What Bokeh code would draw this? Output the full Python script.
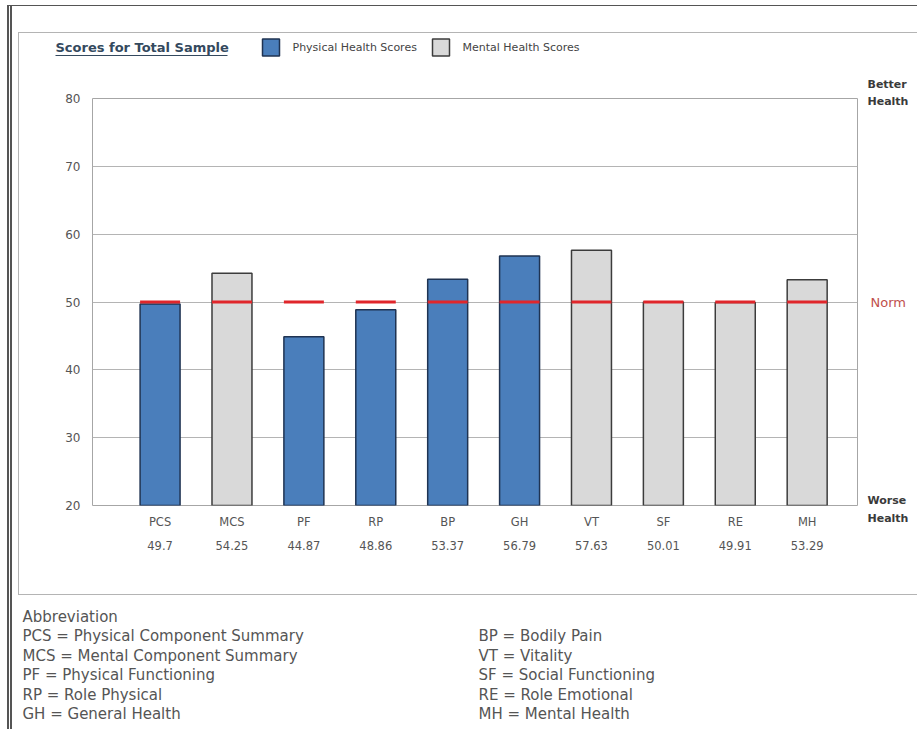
from bokeh.plotting import figure
from bokeh.layouts import column, row
from bokeh.models import (ColumnDataSource, FixedTicker, LinearAxis, Range1d,
                          InlineStyleSheet)
from bokeh.core.properties import value
from bokeh.embed import file_html
from bokeh.resources import INLINE

# SF-36 norm-based scores for the total sample
categories = ["PCS", "MCS", "PF", "RP", "BP", "GH", "VT", "SF", "RE", "MH"]
scores = [49.7, 54.25, 44.87, 48.86, 53.37, 56.79, 57.63, 50.01, 49.91, 53.29]
groups = ["Physical", "Mental", "Physical", "Physical", "Physical",
          "Physical", "Mental", "Mental", "Mental", "Mental"]
norm = 50
y_ticks = [20, 30, 40, 50, 60, 70, 80]
legend_labels = ["Physical Health Scores", "Mental Health Scores"]

abbrev_left = ["PCS = Physical Component Summary", "MCS = Mental Component Summary",
               "PF = Physical Functioning", "RP = Role Physical", "GH = General Health"]
abbrev_right = ["BP = Bodily Pain", "VT = Vitality", "SF = Social Functioning",
                "RE = Role Emotional", "MH = Mental Health"]

# page geometry (pixels from the top-left corner)
W, H = 917, 729
HEAD_H = 70                 # header strip: title and legend
MID_B = 560                 # bottom of the chart strip
CHART_W = 860               # chart canvas width, side notes to its right
FL, FR, FT, FB = 92, 857, 98, 505   # plot frame edges
Y0, Y1 = 20, 80

BLUE, BLUE_EDGE = "#4a7ebb", "#1f3352"
GREY, GREY_EDGE = "#d9d9d9", "#3c3c3c"
TXT = "#555555"
FONT = "DejaVu Sans"


def blank(width, height, xr, yr):
    f = figure(width=width, height=height, x_range=xr, y_range=yr,
               output_backend="svg", toolbar_location=None,
               x_axis_type=None, y_axis_type=None, min_border=0)
    f.outline_line_color = None
    f.grid.visible = False
    if "frame_align" in f.properties():
        f.frame_align = False
    return f


def txt(f, x, y, s, size, color=TXT, style="normal", align="left"):
    f.text(x=[x], y=[y], text=[s], text_font=value(FONT), text_font_size=size,
           text_color=color, text_font_style=style, text_baseline="middle",
           text_align=align)


# ---- header: title and legend -------------------------------------------
head = blank(W, HEAD_H, Range1d(0, W), Range1d(HEAD_H, 0))
TITLE_C = "#34495e"
txt(head, 55, 47, "Scores for Total Sample", "13px", TITLE_C, "bold")
head.segment(x0=[55], x1=[227], y0=[55], y1=[55], line_color=TITLE_C, line_width=1)
head.quad(left=[262, 432], right=[279, 449], top=[38.5, 38.5], bottom=[55.5, 55.5],
          fill_color=[BLUE, GREY], line_color=[BLUE_EDGE, GREY_EDGE], line_width=1.5)
txt(head, 292, 47, legend_labels[0], "11px", "#444444")
txt(head, 462, 47, legend_labels[1], "11px", "#444444")

# ---- chart ----------------------------------------------------------------
xs = list(range(len(categories)))
bar_w = 0.556
chart_h = MID_B - HEAD_H
p = figure(width=CHART_W, height=chart_h, x_range=(-0.94, 9.70), y_range=(Y0, Y1),
           output_backend="svg", toolbar_location=None,
           min_border_left=FL, min_border_right=CHART_W - FR,
           min_border_top=FT - HEAD_H, min_border_bottom=MID_B - FB)
if "frame_align" in p.properties():
    p.frame_align = False
p.outline_line_color = "#a6a6a6"
p.outline_line_width = 1
p.xgrid.visible = False
p.ygrid.grid_line_color = "#b4b4b4"
p.ygrid.ticker = FixedTicker(ticks=y_ticks)

ya = p.yaxis[0]
ya.ticker = FixedTicker(ticks=y_ticks)
ya.axis_line_color = None
ya.major_tick_line_color = None
ya.minor_tick_line_color = None
ya.major_tick_out = 0
ya.major_label_text_font = FONT
ya.major_label_text_font_size = "12px"
ya.major_label_text_color = TXT
ya.major_label_standoff = 12


def style_x(ax):
    ax.ticker = FixedTicker(ticks=xs)
    ax.axis_line_color = None
    ax.major_tick_line_color = None
    ax.minor_tick_line_color = None
    ax.major_tick_out = 0
    ax.major_label_text_font = FONT
    ax.major_label_text_font_size = "11.5px"
    ax.major_label_text_color = TXT


xa = p.xaxis[0]
style_x(xa)
xa.major_label_overrides = {i: c for i, c in enumerate(categories)}
xa.major_label_standoff = 9

xv = LinearAxis()
style_x(xv)
xv.major_label_overrides = {i: f"{v:g}" for i, v in enumerate(scores)}
xv.major_label_standoff = 9
p.add_layout(xv, "below")

phys_idx = [i for i, g in enumerate(groups) if g == "Physical"]
ment_idx = [i for i, g in enumerate(groups) if g == "Mental"]
phys = ColumnDataSource(dict(x=[xs[i] for i in phys_idx], top=[scores[i] for i in phys_idx]))
ment = ColumnDataSource(dict(x=[xs[i] for i in ment_idx], top=[scores[i] for i in ment_idx]))
p.vbar(x="x", top="top", bottom=Y0, width=bar_w, source=phys,
       fill_color=BLUE, line_color=BLUE_EDGE, line_width=1.5)
p.vbar(x="x", top="top", bottom=Y0, width=bar_w, source=ment,
       fill_color=GREY, line_color=GREY_EDGE, line_width=1.5)

# norm marker across each bar
p.segment(x0=[x - bar_w / 2 for x in xs], x1=[x + bar_w / 2 for x in xs],
          y0=[norm] * len(xs), y1=[norm] * len(xs),
          line_color="#e0262b", line_width=3)

# ---- side notes, on the same vertical scale as the chart -------------------
ppu = (FB - FT) / (Y1 - Y0)                       # pixels per score unit
side_top = Y1 + (FT - HEAD_H) / ppu
side_bot = Y0 - (MID_B - FB) / ppu
side = blank(W - CHART_W, chart_h, Range1d(0, W - CHART_W), Range1d(side_bot, side_top))


def side_y(page_y):
    return Y1 - (page_y - FT) / ppu


NOTE_C = "#3a3a3a"
txt(side, 867 - CHART_W, side_y(84), "Better", "11px", NOTE_C, "bold")
txt(side, 867 - CHART_W, side_y(101), "Health", "11px", NOTE_C, "bold")
txt(side, 867 - CHART_W, side_y(500), "Worse", "11px", NOTE_C, "bold")
txt(side, 867 - CHART_W, side_y(518), "Health", "11px", NOTE_C, "bold")
txt(side, 870 - CHART_W, norm, "Norm", "13px", "#c0504d")

# ---- footer: abbreviation key ---------------------------------------------
foot_h = H - MID_B
foot = blank(W, foot_h, Range1d(0, W), Range1d(foot_h, 0))
txt(foot, 22, 616 - MID_B, "Abbreviation", "15px")
for i, t in enumerate(abbrev_left):
    txt(foot, 22, 635.5 - MID_B + i * 19.5, t, "15px")
for i, t in enumerate(abbrev_right):
    txt(foot, 478, 635.5 - MID_B + i * 19.5, t, "15px")

page = column(head, row(p, side, spacing=0), foot, spacing=0)

# page rule lines and the panel border around the chart
page.stylesheets = [InlineStyleSheet(css="""
:host { position: relative; }
:host::before {
  content: ""; position: absolute; left: 7px; top: 5px; width: 920px; height: 740px;
  border-top: 1.5px solid #555; border-left: 5px double #555;
  pointer-events: none; z-index: 10;
}
:host::after {
  content: ""; position: absolute; left: 18px; top: 32px; width: 910px; height: 561px;
  border: 1.5px solid #b4b4b4; pointer-events: none; z-index: 10;
}
""")]

open("out.html", "w").write(file_html(page, INLINE))
